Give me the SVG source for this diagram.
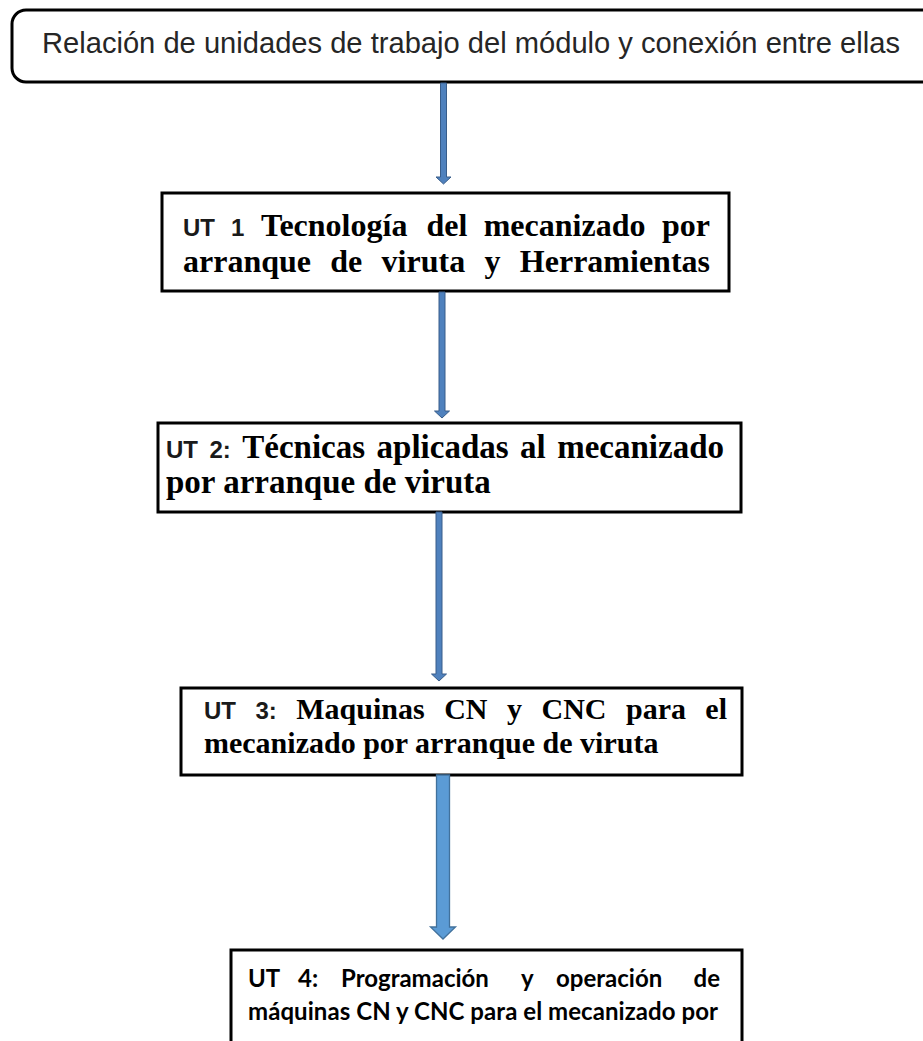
<svg xmlns="http://www.w3.org/2000/svg" width="923" height="1041" viewBox="0 0 923 1041">
<style>
.box{fill:#fff;stroke:#000;stroke-width:3}
.title{font-family:"Liberation Sans",Arial,sans-serif;font-size:30px;fill:#262626}
.ut{font-family:"Liberation Sans",Arial,sans-serif;font-weight:bold;fill:#1a1a1a}
.tm{font-family:"Liberation Serif","Times New Roman",serif;font-weight:bold;fill:#000}
.cb{font-family:Lato,"Liberation Sans",sans-serif;font-weight:bold;font-size:24px;fill:#000}
.thin{fill:#4F81BD;stroke:#385D8A;stroke-width:1}
.fat{fill:#5B9BD5;stroke:#41719C;stroke-width:1.3}
</style>
<rect width="923" height="1041" fill="#fff"/>
<g id="title">
<rect class="box" x="12" y="10" width="940" height="72" rx="14" stroke-width="2.5"/>
<text class="title" x="42" y="53" textLength="858" lengthAdjust="spacingAndGlyphs">Relación de unidades de trabajo del módulo y conexión entre ellas</text>
</g>
<g id="ut1">
<rect class="box" x="162" y="193" width="567" height="98"/>
<text class="ut" font-size="24" y="236"><tspan x="183">UT</tspan><tspan x="231">1</tspan></text>
<text class="tm" font-size="32" y="236"><tspan x="261">Tecnología</tspan><tspan x="426.5">del</tspan><tspan x="483.7">mecanizado</tspan></text>
<text class="tm" font-size="32" x="710" y="236" text-anchor="end">por</text>
<text class="tm" font-size="32" y="272"><tspan x="183">arranque</tspan><tspan x="330.3">de</tspan><tspan x="381.6">viruta</tspan><tspan x="484.5">y</tspan></text>
<text class="tm" font-size="32" x="710" y="272" text-anchor="end">Herramientas</text>
</g>
<g id="ut2">
<rect class="box" x="158" y="423" width="583" height="89"/>
<text class="ut" font-size="24" y="458"><tspan x="166">UT</tspan><tspan x="209.5">2:</tspan></text>
<text class="tm" font-size="33" y="458"><tspan x="242.3">Técnicas</tspan><tspan x="376.6">aplicadas</tspan><tspan x="520.1">al</tspan></text>
<text class="tm" font-size="33" x="724" y="458" text-anchor="end">mecanizado</text>
<text class="tm" font-size="33" x="166" y="493">por arranque de viruta</text>
</g>
<g id="ut3">
<rect class="box" x="181" y="688" width="561" height="87"/>
<text class="ut" font-size="24" y="719"><tspan x="204">UT</tspan><tspan x="255.5">3:</tspan></text>
<text class="tm" font-size="30" y="719"><tspan x="296.3">Maquinas</tspan><tspan x="444.2">CN</tspan><tspan x="507">y</tspan><tspan x="541.5">CNC</tspan><tspan x="626">para</tspan></text>
<text class="tm" font-size="30" x="727" y="719" text-anchor="end">el</text>
<text class="tm" font-size="30" x="204" y="753">mecanizado por arranque de viruta</text>
</g>
<g id="ut4">
<rect class="box" x="231" y="950" width="511" height="110"/>
<text class="cb" y="987"><tspan x="248">UT</tspan><tspan x="298">4:</tspan><tspan x="341">Programación</tspan><tspan x="521">y</tspan><tspan x="556">operación</tspan></text>
<text class="cb" x="720" y="987" text-anchor="end">de</text>
<text class="cb" x="248" y="1020" textLength="470" lengthAdjust="spacing">máquinas CN y CNC para el mecanizado por</text>
</g>
<g id="connectors">
<path class="thin" d="M440.5 83 H446.5 V177 H451 L443.5 184 L436 177 H440.5 Z"/>
<path class="thin" d="M439 292 H445 V411 H449.5 L442 418 L434.5 411 H439 Z"/>
<path class="thin" d="M436 512 H442 V674 H446.5 L439 681 L431.5 674 H436 Z"/>
<path class="fat" d="M436.5 775 H449.5 V927 H455.5 L443 939 L430.5 927 H436.5 Z"/>
</g>
</svg>
